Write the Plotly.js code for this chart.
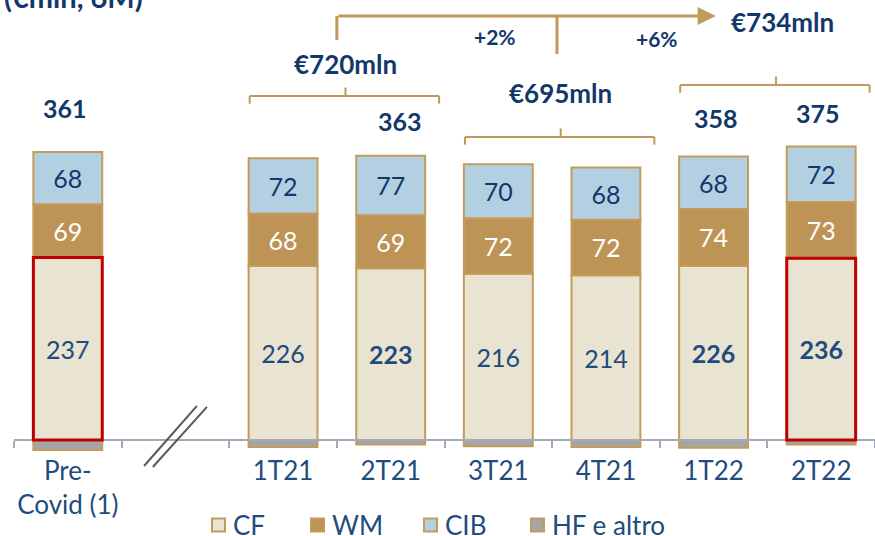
<!DOCTYPE html>
<html>
<head>
<meta charset="utf-8">
<script src="https://cdn.plot.ly/plotly-3.0.1.min.js"></script>
<style>
  html, body { margin: 0; padding: 0; background: #fff; }
  #chart { width: 875px; height: 536px; }
</style>
</head>
<body>
<div id="chart"></div>
<script>
// Ricavi per divisione, trimestrale (€mln)
const cats = ['Pre-<br>Covid (1)', ' ', '1T21', '2T21', '3T21', '4T21', '1T22', '2T22'];
const cf  = [237, null, 226, 223, 216, 214, 226, 236];
const wm  = [69, null, 68, 69, 72, 72, 74, 73];
const cib = [68, null, 72, 77, 70, 68, 68, 72];
const hf  = [-13, null, -9, -6, -8, -9, -10, -6];
const cfBold = [false, false, false, true, false, false, true, true];
const cfRed = [true, false, false, false, false, false, false, true];
const showTotal = [true, false, false, true, false, false, true, true];
const semLabels = ['€720mln', '€695mln', '€734mln'];
const semStart = [2, 4, 6];
const growth = ['+2%', '+6%'];

const C = { cf: '#e9e3d1', wm: '#bd9455', cib: '#b3d0e2', hf: '#a5a5a5',
            edge: '#c59b5b', red: '#c00000', navy: '#12386b', text: '#1f4b7d',
            gold: '#c09a5b', axis: '#a3aab9' };
const FONT = 'Lato, "Open Sans", sans-serif';
const BAR_W = 0.64;

const totals = cats.map((_, i) => cf[i] == null ? null : cf[i] + wm[i] + cib[i] + hf[i]);
const tops = cats.map((_, i) => cf[i] == null ? null : cf[i] + wm[i] + cib[i]);

function seg(name, y, fill, txtColor, text) {
  return {
    type: 'bar', name, x: cats, y, width: BAR_W,
    marker: { color: fill, line: { color: C.edge, width: 2 } },
    text: text || y.map((v) => v == null || v < 0 ? '' : String(v)),
    textposition: 'inside', insidetextanchor: 'middle', textangle: 0,
    constraintext: 'none',
    textfont: { family: FONT, size: 25, color: txtColor },
    hoverinfo: 'skip',
  };
}

const traces = [
  seg('CF', cf, C.cf, C.text,
      cf.map((v, i) => v == null ? '' : (cfBold[i] ? `<b>${v}</b>` : String(v)))),
  seg('WM', wm, C.wm, '#ffffff'),
  seg('CIB', cib, C.cib, C.navy),
  seg('HF e altro', hf, C.hf, C.text),
];

const annotations = [];
const shapes = [];

// riquadri rossi sui CF evidenziati
cats.forEach((c, i) => {
  if (!cfRed[i]) return;
  shapes.push({ type: 'rect', xref: 'x', yref: 'y', x0: i - BAR_W / 2, x1: i + BAR_W / 2,
    y0: 0, y1: cf[i], line: { color: C.red, width: 3 }, layer: 'above' });
});

// totali sopra le barre
const totShift = { 0: [-3, 27], 3: [9, 18], 6: [2, 22], 7: [-3, 17] };
cats.forEach((c, i) => {
  if (!showTotal[i]) return;
  annotations.push({ x: i, y: tops[i], xref: 'x', yref: 'y', yanchor: 'bottom',
    xshift: totShift[i][0], yshift: totShift[i][1], showarrow: false,
    text: `<b>${totals[i]}</b>`, font: { family: FONT, size: 25, color: C.navy } });
});

// parentesi semestrali
const bracketY = [446.8, 393.5, 461];
const labelY = [488, 450.6, 543];
const gl = { color: C.gold, width: 2 };
semStart.forEach((s, k) => {
  const x0 = s - 0.31, x1 = s + 1.45, xc = s + 0.58, y = bracketY[k];
  shapes.push({ type: 'line', xref: 'x', yref: 'y', x0, x1, y0: y, y1: y, line: gl });
  shapes.push({ type: 'line', xref: 'x', yref: 'y', x0, x1: x0, y0: y, y1: y - 10, line: gl });
  shapes.push({ type: 'line', xref: 'x', yref: 'y', x0: x1, x1, y0: y, y1: y - 10, line: gl });
  shapes.push({ type: 'line', xref: 'x', yref: 'y', x0: xc, x1: xc, y0: y, y1: y + 11, line: gl });
  annotations.push({ x: xc + (k === 2 ? 0.06 : 0), y: labelY[k], xref: 'x', yref: 'y',
    showarrow: false, text: `<b>${semLabels[k]}</b>`,
    font: { family: FONT, size: 26, color: C.navy } });
});

// freccia di crescita
const arrowY = 550.6;
const al = { color: C.gold, width: 3 };
shapes.push({ type: 'line', xref: 'x', yref: 'y', x0: 2.5, x1: 2.5, y0: arrowY, y1: 519.5, line: al });
shapes.push({ type: 'line', xref: 'x', yref: 'y', x0: 4.545, x1: 4.545, y0: arrowY, y1: 501.3, line: al });
annotations.push({ x: 6.02, y: arrowY, ax: 2.5, ay: arrowY, xref: 'x', yref: 'y',
  axref: 'x', ayref: 'y', text: '', showarrow: true, arrowhead: 2, arrowsize: 1.2,
  arrowwidth: 3, arrowcolor: C.gold, standoff: 0 });
annotations.push({ x: 3.97, y: 523.4, xref: 'x', yref: 'y', showarrow: false,
  text: `<b>${growth[0]}</b>`, font: { family: FONT, size: 21, color: C.navy } });
annotations.push({ x: 5.47, y: 522, xref: 'x', yref: 'y', showarrow: false,
  text: `<b>${growth[1]}</b>`, font: { family: FONT, size: 21, color: C.navy } });

// interruzione asse
const br = { color: '#595959', width: 2 };
shapes.push({ type: 'line', xref: 'x', yref: 'y', x0: 0.708, x1: 1.2, y0: -33.8, y1: 44.2, line: br });
shapes.push({ type: 'line', xref: 'x', yref: 'y', x0: 0.79, x1: 1.293, y0: -35.1, y1: 42.9, line: br });

// titolo tagliato in alto
annotations.push({ x: -0.014, y: 1.006, xref: 'paper', yref: 'paper', xanchor: 'left',
  yanchor: 'middle', showarrow: false, text: '<b>(€mln, 6M)</b>',
  font: { family: FONT, size: 29, color: C.navy } });

// legenda (disegnata a mano per le spaziature)
const legX = [211, 310, 423, 530];   // px, inizio quadratino
const legY = 525;                    // px, centro riga
const px2x = (px) => (px - 14) / 861;
const px2y = (py) => (536 - py) / 536;
traces.forEach((t, k) => {
  shapes.push({ type: 'rect', xref: 'paper', yref: 'paper',
    x0: px2x(legX[k] + 1), x1: px2x(legX[k] + 14), y0: px2y(legY + 6.5), y1: px2y(legY - 6.5),
    fillcolor: t.marker.color, line: { color: C.edge, width: 2 } });
  annotations.push({ x: px2x(legX[k] + 20), y: px2y(legY), xref: 'paper', yref: 'paper',
    xanchor: 'left', yanchor: 'middle', showarrow: false, text: t.name,
    font: { family: FONT, size: 26, color: C.text } });
});

const layout = {
  width: 875, height: 536,
  margin: { l: 14, r: 0, t: 0, b: 0 },
  paper_bgcolor: '#ffffff', plot_bgcolor: 'rgba(0,0,0,0)',
  barmode: 'relative',
  font: { family: FONT, color: C.text },
  showlegend: false,
  xaxis: { type: 'category', categoryorder: 'array', categoryarray: cats,
           range: [-0.5, 7.5], anchor: 'free', position: 0.1791,
           showline: true, linecolor: C.axis, linewidth: 2,
           ticks: 'outside', tickson: 'boundaries', ticklen: 7, tickwidth: 2, tickcolor: C.axis,
           ticklabelstandoff: 8, tickangle: 0,
           tickfont: { family: FONT, size: 26, color: C.text },
           showgrid: false, zeroline: false, fixedrange: true, automargin: false },
  yaxis: { range: [-124.7, 571.4], visible: false, showgrid: false, zeroline: false,
           fixedrange: true },
  shapes, annotations,
};

Plotly.newPlot('chart', traces, layout, { displayModeBar: false, staticPlot: true });
</script>
</body>
</html>
